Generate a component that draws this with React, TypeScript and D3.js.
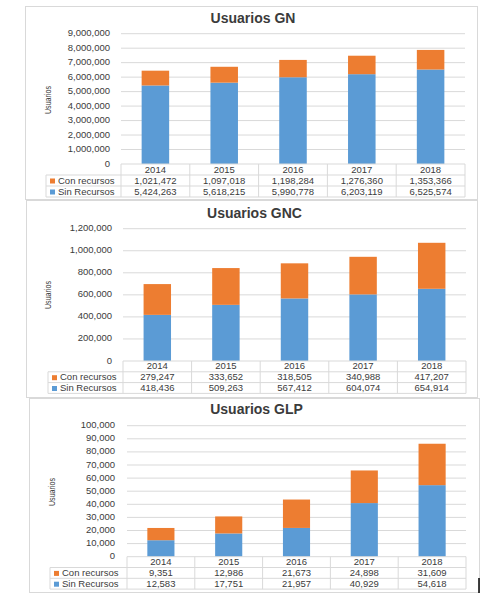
import React from "react";
import * as d3 from "d3";

const years = ["2014", "2015", "2016", "2017", "2018"];
const seriesNames = ["Con recursos", "Sin Recursos"];

const gnCon = [1021472, 1097018, 1198284, 1276360, 1353366];
const gnSin = [5424263, 5618215, 5990778, 6203119, 6525574];
const gnTicks = [0, 1000000, 2000000, 3000000, 4000000, 5000000, 6000000, 7000000, 8000000, 9000000];

const gncCon = [279247, 333652, 318505, 340988, 417207];
const gncSin = [418436, 509263, 567412, 604074, 654914];
const gncTicks = [0, 200000, 400000, 600000, 800000, 1000000, 1200000];

const glpCon = [9351, 12986, 21673, 24898, 31609];
const glpSin = [12583, 17751, 21957, 40929, 54618];
const glpTicks = [0, 10000, 20000, 30000, 40000, 50000, 60000, 70000, 80000, 90000, 100000];

const titles = ["Usuarios GN", "Usuarios GNC", "Usuarios GLP"];

const BLUE = "#5B9BD5";
const ORANGE = "#ED7D31";
const GRID = "#D9D9D9";
const TXT = "#3b3b3b";
const FONT = "'Liberation Sans', Arial, sans-serif";

type Layout = {
  px: number; py: number; pw: number; ph: number;
  titleY: number; x0: number; x1: number; yTop: number; yBottom: number;
  tickX: number; ylabX: number; ylabY: number; tableLeft: number; rowH: number;
};

const fmt = d3.format(",");

function Chart({ title, con, sin, ticks, L }: { title: string; con: number[]; sin: number[]; ticks: number[]; L: Layout }) {
  const x = d3.scaleBand<string>().domain(years).range([L.x0, L.x1]).paddingInner(0).paddingOuter(0);
  const y = d3.scaleLinear().domain([0, ticks[ticks.length - 1]]).range([L.yBottom, L.yTop]);
  const bw = x.bandwidth() * 0.4;
  const rows = [L.yBottom, L.yBottom + L.rowH, L.yBottom + 2 * L.rowH, L.yBottom + 3 * L.rowH];
  const series = [con, sin];
  const colors = [ORANGE, BLUE];
  return (
    <g>
      <rect x={L.px + 0.5} y={L.py + 0.5} width={L.pw} height={L.ph} fill="#fff" stroke={GRID} strokeWidth={1} />
      <text x={(L.x0 + L.x1) / 2 - 40} y={L.titleY} textAnchor="middle" dominantBaseline="middle" fontSize={14} fontWeight={600} fill={TXT} fontFamily={FONT}>{title}</text>
      {ticks.map((t) => (
        <g key={t}>
          {t > 0 && <line x1={L.x0} x2={L.x1} y1={y(t)} y2={y(t)} stroke={GRID} strokeWidth={1} />}
          <text x={L.tickX} y={y(t)} textAnchor="end" dominantBaseline="middle" fontSize={9.5} fill={TXT} fontFamily={FONT}>{fmt(t)}</text>
        </g>
      ))}
      <text transform={`translate(${L.ylabX},${L.ylabY}) rotate(-90)`} textAnchor="middle" dominantBaseline="middle" fontSize={9} fill={TXT} fontFamily={FONT} textLength={28} lengthAdjust="spacingAndGlyphs">Usuarios</text>
      {years.map((yr, i) => {
        const cx = (x(yr) as number) + x.bandwidth() / 2;
        return (
          <g key={yr}>
            <rect x={cx - bw / 2} y={y(sin[i])} width={bw} height={L.yBottom - y(sin[i])} fill={BLUE} />
            <rect x={cx - bw / 2} y={y(sin[i] + con[i])} width={bw} height={y(sin[i]) - y(sin[i] + con[i])} fill={ORANGE} />
          </g>
        );
      })}
      {/* data table */}
      <line x1={L.x0} x2={L.x1} y1={rows[0]} y2={rows[0]} stroke={GRID} />
      {[1, 2, 3].map((r) => (
        <line key={r} x1={L.tableLeft} x2={L.x1} y1={rows[r]} y2={rows[r]} stroke={GRID} />
      ))}
      <line x1={L.tableLeft} x2={L.tableLeft} y1={rows[1]} y2={rows[3]} stroke={GRID} />
      {[...years.map((yr) => x(yr) as number), L.x1].map((bx, i) => (
        <line key={i} x1={bx} x2={bx} y1={rows[0]} y2={rows[3]} stroke={GRID} />
      ))}
      {years.map((yr) => (
        <text key={yr} x={(x(yr) as number) + x.bandwidth() / 2} y={(rows[0] + rows[1]) / 2 + 0.5} textAnchor="middle" dominantBaseline="middle" fontSize={9.5} fill={TXT} fontFamily={FONT}>{yr}</text>
      ))}
      {seriesNames.map((nm, r) => (
        <g key={nm}>
          <rect x={L.tableLeft + 4} y={(rows[r + 1] + rows[r + 2]) / 2 - 2} width={5} height={5} fill={colors[r]} />
          <text x={L.tableLeft + 12} y={(rows[r + 1] + rows[r + 2]) / 2 + 0.5} dominantBaseline="middle" fontSize={9.5} fill={TXT} fontFamily={FONT}>{nm}</text>
          {years.map((yr, i) => (
            <text key={yr} x={(x(yr) as number) + x.bandwidth() / 2} y={(rows[r + 1] + rows[r + 2]) / 2 + 0.5} textAnchor="middle" dominantBaseline="middle" fontSize={9.5} fill={TXT} fontFamily={FONT}>{fmt(series[r][i])}</text>
          ))}
        </g>
      ))}
    </g>
  );
}

const layouts: Layout[] = [
  { px: 25, py: 6, pw: 452, ph: 193, titleY: 19, x0: 121, x1: 465, yTop: 33.7, yBottom: 164, tickX: 110, ylabX: 49, ylabY: 100, tableLeft: 46, rowH: 11 },
  { px: 26, py: 200, pw: 451, ph: 197, titleY: 214, x0: 123, x1: 466, yTop: 228.7, yBottom: 361, tickX: 112, ylabX: 49, ylabY: 295, tableLeft: 48, rowH: 10.8 },
  { px: 29, py: 398, pw: 450, ph: 194, titleY: 410, x0: 127, x1: 466, yTop: 425.7, yBottom: 556.7, tickX: 115, ylabX: 53, ylabY: 492, tableLeft: 50, rowH: 10.8 },
];

export default function App() {
  const data = [
    { con: gnCon, sin: gnSin, ticks: gnTicks },
    { con: gncCon, sin: gncSin, ticks: gncTicks },
    { con: glpCon, sin: glpSin, ticks: glpTicks },
  ];
  return (
    <svg width={495} height={602} style={{ position: "absolute", left: 0, top: 0, background: "#fff" }}>
      <rect x={0} y={0} width={495} height={602} fill="#fff" />
      {data.map((d, i) => (
        <Chart key={i} title={titles[i]} con={d.con} sin={d.sin} ticks={d.ticks} L={layouts[i]} />
      ))}
      <line x1={479} x2={479} y1={578} y2={593} stroke="#000" strokeWidth={1.5} />
    </svg>
  );
}
